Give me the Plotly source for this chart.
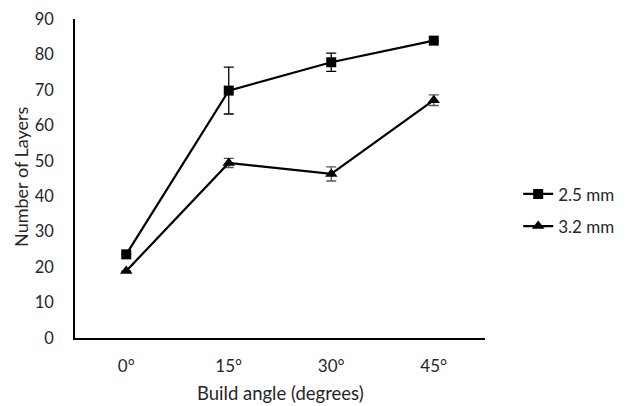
import plotly.graph_objects as go

categories = ["0°", "15°", "30°", "45°"]
series_25 = [23.6, 69.8, 77.8, 83.9]
err_25 = [0, 6.6, 2.6, 0]
series_32 = [18.9, 49.4, 46.3, 67.1]
err_32 = [0, 1.3, 2.0, 1.5]
y_ticks = [0, 10, 20, 30, 40, 50, 60, 70, 80, 90]

font_family = "Lato, Open Sans, sans-serif"
txt = "#262626"

fig = go.Figure()
fig.add_trace(go.Scatter(
    x=categories, y=series_25, name="2.5 mm", mode="lines+markers",
    line=dict(color="black", width=2.2),
    marker=dict(symbol="square", size=10, color="black"),
    error_y=dict(type="data", array=err_25, visible=True, color="black", thickness=1.3, width=5),
    legendgroup="a",
))
fig.add_trace(go.Scatter(
    x=categories, y=series_32, name="3.2 mm", mode="lines+markers",
    line=dict(color="black", width=2.2),
    marker=dict(symbol="triangle-up", size=11, color="black"),
    error_y=dict(type="data", array=err_32, visible=True, color="#555555", thickness=1.3, width=5),
    legendgroup="b",
))

fig.update_layout(
    width=619, height=398,
    paper_bgcolor="white", plot_bgcolor="white",
    margin=dict(l=67, r=142, t=11, b=68, autoexpand=False),
    font=dict(family=font_family, size=17, color=txt),
    legend=dict(x=1.081, y=0.40, xanchor="left", yanchor="middle",
                tracegroupgap=7, font=dict(size=17, color=txt),
                itemwidth=30),
    showlegend=True,
    annotations=[
        dict(text="Build angle (degrees)", xref="paper", yref="paper",
             x=0.5, y=-0.172, xanchor="center", yanchor="middle",
             showarrow=False, font=dict(size=18.5, color=txt)),
        dict(text="Number of Layers", xref="paper", yref="paper",
             x=-0.1317, y=0.505, xanchor="center", yanchor="middle",
             textangle=-90, showarrow=False, font=dict(size=18, color=txt)),
    ],
)
fig.update_xaxes(
    type="category", range=[-0.5, 3.5], showline=True, linecolor="black", linewidth=1.5,
    showgrid=False, ticks="", automargin=False, ticklabelstandoff=12,
    tickfont=dict(size=17, color=txt), ticklabeloverflow="allow",
)
fig.update_yaxes(
    range=[0, 90], tickvals=y_ticks, showline=True, linecolor="black", linewidth=1.5,
    showgrid=False, zeroline=False, ticks="", automargin=False, ticklabelstandoff=16,
    tickfont=dict(size=16.5, color=txt), ticklabeloverflow="allow",
)

fig.write_html("out.html")
